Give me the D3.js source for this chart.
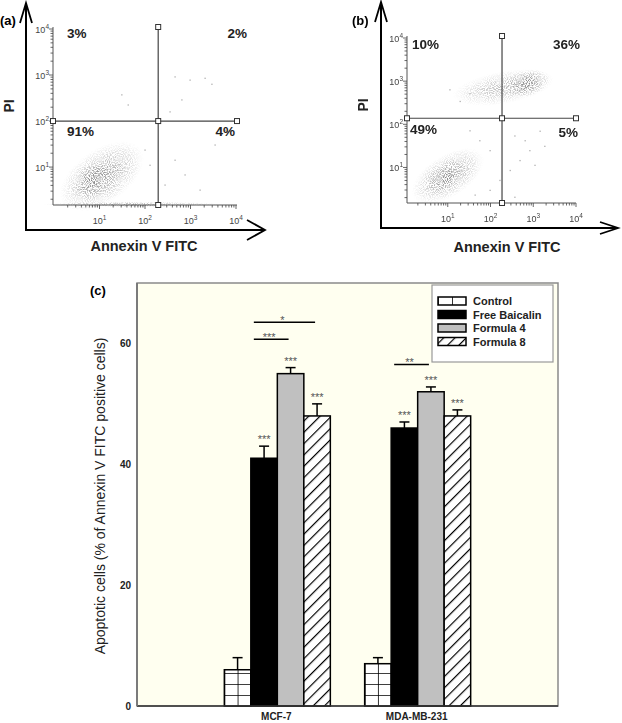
<!DOCTYPE html>
<html><head><meta charset="utf-8">
<script src="https://cdn.jsdelivr.net/npm/d3@7"></script>
<style>html,body{margin:0;padding:0;background:#fff}svg{display:block}text{font-family:"Liberation Sans",Arial,sans-serif}</style>
</head><body><svg id="fig" width="622" height="723"></svg>
<script>
// ---------- DATA ----------
// Flow cytometry panels
const panelIds = ["a", "b"];
const quadrantPercentsA = ["3%", "2%", "91%", "4%"];   // UL, UR, LL, LR
const quadrantPercentsB = ["10%", "36%", "49%", "5%"];
const gateAnnexinA = 195, gatePIA = 100;
const gateAnnexinB = 186, gatePIB = 138;
const decadeTicks = [10, 100, 1000, 10000];
const decadeExp = ["1", "2", "3", "4"];
// dense event clouds: [log10 Annexin, log10 PI, spreadX (decades), spreadY (decades), tilt deg, density]
const cloudsA = [
  [1.75, 0.19, 2.0, 0.06, 0, 0.6],
  [1.05, 0.80, 1.05, 0.58, -35, 0.7],
  [0.88, 0.72, 0.55, 0.33, -35, 0.85]
];
const cloudsB = [
  [1.00, 0.80, 0.95, 0.48, -32, 0.7],
  [0.92, 0.74, 0.45, 0.25, -32, 0.7],
  [2.30, 2.85, 1.20, 0.38, -10, 0.5],
  [2.85, 2.95, 0.55, 0.30, -15, 0.9]
];
// sparse individual events: [log10 Annexin, log10 PI]
const sparseA = [[2.66,2.96],[2.99,2.89],[3.32,2.93],[3.47,2.80],[1.49,2.57],[1.63,2.35],[2.55,2.20],[2.81,2.46],
  [3.54,1.48],[3.76,1.80],[2.0,1.37],[2.11,1.04],[2.44,0.61],[2.88,0.83],[3.21,0.50],[2.66,1.15]];
const sparseB = [[2.57,1.73],[2.81,1.62],[2.92,1.39],[2.69,1.16],[3.16,1.84],[2.46,0.93],[3.04,1.05],[3.27,1.49],
  [1.99,1.39],[1.75,1.62],[1.52,1.85],[1.29,2.53],[1.52,2.71],[1.05,2.80],[1.99,0.47],[2.22,0.70],[2.57,0.31],[1.64,0.36]];

// Bar chart (c)
const cellLines = ["MCF-7", "MDA-MB-231"];
const treatments = ["Control", "Free Baicalin", "Formula 4", "Formula 8"];
const controlMean = [6, 7];
const baicalinMean = [41, 46];
const formula4Mean = [55, 52];
const formula8Mean = [48, 48];
const controlErr = [2, 1];
const baicalinErr = [2, 1];
const formula4Err = [1, 0.8];
const formula8Err = [2, 1];
const barStars = ["", "***", "***", "***"];
const yTicksC = [0, 20, 40, 60];
// pairwise comparisons
const compLine = [0, 0, 1];
const compFrom = ["Free Baicalin", "Free Baicalin", "Free Baicalin"];
const compTo = ["Formula 8", "Formula 4", "Formula 4"];
const compLabel = ["*", "***", "**"];
const compLevel = [63.5, 60.7, 56.5];

// ---------- DRAW ----------
const svg = d3.select("#fig");
svg.append("rect").attr("width", 622).attr("height", 723).attr("fill", "#fff");
const defs = svg.append("defs");

// cloud gradient & grain filter
const rg = defs.append("radialGradient").attr("id", "cloudGrad");
rg.append("stop").attr("offset", "0%").attr("stop-color", "#777").attr("stop-opacity", 1);
rg.append("stop").attr("offset", "45%").attr("stop-color", "#929292").attr("stop-opacity", 0.8);
rg.append("stop").attr("offset", "80%").attr("stop-color", "#b0b0b0").attr("stop-opacity", 0.35);
rg.append("stop").attr("offset", "100%").attr("stop-color", "#c0c0c0").attr("stop-opacity", 0);
const flt = defs.append("filter").attr("id", "grain").attr("filterUnits", "userSpaceOnUse")
  .attr("x", 0).attr("y", 0).attr("width", 622).attr("height", 260);
flt.append("feTurbulence").attr("type", "fractalNoise").attr("baseFrequency", 0.95).attr("numOctaves", 1).attr("seed", 7).attr("result", "n");
flt.append("feColorMatrix").attr("in", "n").attr("type", "matrix")
  .attr("values", "0 0 0 0 0  0 0 0 0 0  0 0 0 0 0  4.5 0 0 0 -1.9").attr("result", "a");
flt.append("feComposite").attr("in", "SourceGraphic").attr("in2", "a").attr("operator", "in");

const panels = {
  a: { label: "(a)", labelX: 0, labelY: 25, arrowX: 26, arrowTop: 3, arrowY: 230, arrowRight: 265, headV: 6, headH: 10,
       xr: [54, 236], yr: [205, 29], left: 53, right: 237, top: 27, bottom: 205,
       piX: 14, piY: 106, annX: 144, annY: 251,
       pctPos: [[67, 38, "start"], [247, 38, "end"], [67, 136, "start"], [235, 136, "end"]],
       pcts: quadrantPercentsA, gx: gateAnnexinA, gy: gatePIA, clouds: cloudsA, sparse: sparseA },
  b: { label: "(b)", labelX: 352, labelY: 25, arrowX: 381, arrowTop: 2, arrowY: 228, arrowRight: 618, headV: 6, headH: 6,
       xr: [405, 576], yr: [203, 38], left: 407, right: 576, top: 36, bottom: 203,
       piX: 368, piY: 105, annX: 507, annY: 252,
       pctPos: [[412, 49, "start"], [580, 49, "end"], [410, 134, "start"], [578, 137, "end"]],
       pcts: quadrantPercentsB, gx: gateAnnexinB, gy: gatePIB, clouds: cloudsB, sparse: sparseB }
};

panelIds.forEach(id => {
  const P = panels[id];
  const g = svg.append("g");
  const x = d3.scaleLog().domain([1, 1e4]).range(P.xr);
  const y = d3.scaleLog().domain([1.5, 1e4]).range(P.yr);
  const pxPerDecX = (P.xr[1] - P.xr[0]) / 4;
  const pxPerDecY = (P.yr[0] - P.yr[1]) / Math.log10(1e4 / 1.5);

  const cg = g.append("g").attr("filter", "url(#grain)");
  P.clouds.forEach(c => {
    const cx = x(Math.pow(10, c[0])), cy = y(Math.pow(10, c[1]));
    cg.append("ellipse").attr("cx", 0).attr("cy", 0)
      .attr("rx", c[2] * pxPerDecX).attr("ry", c[3] * pxPerDecY)
      .attr("transform", `translate(${cx},${cy}) rotate(${c[4]})`)
      .attr("fill", "url(#cloudGrad)").attr("opacity", c[5]);
  });
  g.selectAll(null).data(P.sparse).join("rect")
    .attr("x", d => x(Math.pow(10, d[0])) - 0.6).attr("y", d => y(Math.pow(10, d[1])) - 0.6)
    .attr("width", 1.3).attr("height", 1.3).attr("fill", "#b0b0b0");

  g.append("path").attr("d", `M${P.arrowX},${P.arrowTop}V${P.arrowY}H${P.arrowRight}`)
    .attr("fill", "none").attr("stroke", "#000").attr("stroke-width", 2);
  g.append("path").attr("d", `M${P.arrowX - P.headV},${P.arrowTop + 20}L${P.arrowX},${P.arrowTop}L${P.arrowX + P.headV},${P.arrowTop + 20}`)
    .attr("fill", "none").attr("stroke", "#000").attr("stroke-width", 1.8);
  g.append("path").attr("d", `M${P.arrowRight - 18},${P.arrowY - P.headH}L${P.arrowRight},${P.arrowY}L${P.arrowRight - 18},${P.arrowY + P.headH}`)
    .attr("fill", "none").attr("stroke", "#000").attr("stroke-width", 1.8);

  g.append("path").attr("d", `M${P.left},${P.top}V${P.bottom}H${P.right}`)
    .attr("fill", "none").attr("stroke", "#555").attr("stroke-width", 1);
  const tickVals = [];
  for (let k = 0; k < 4; k++) for (let m = 1; m < 10; m++) tickVals.push(m * Math.pow(10, k));
  tickVals.push(1e4);
  tickVals.forEach(v => {
    const major = Math.abs(Math.log10(v) - Math.round(Math.log10(v))) < 1e-9;
    const len = major ? 4 : 2.5;
    if (v >= 1.5) g.append("line").attr("x1", P.left - len).attr("x2", P.left).attr("y1", y(v)).attr("y2", y(v))
      .attr("stroke", "#444").attr("stroke-width", 0.8);
    if (v > 1) g.append("line").attr("x1", x(v)).attr("x2", x(v)).attr("y1", P.bottom).attr("y2", P.bottom + len)
      .attr("stroke", "#444").attr("stroke-width", 0.8);
  });
  decadeTicks.forEach((v, i) => {
    const t = g.append("text").attr("x", P.left - 4).attr("y", y(v) + 4).attr("text-anchor", "end")
      .attr("font-size", 9).attr("fill", "#444");
    t.append("tspan").text("10");
    t.append("tspan").attr("dy", -4).attr("font-size", 6.5).text(decadeExp[i]);
    const tx = g.append("text").attr("x", x(v)).attr("y", P.bottom + 19).attr("text-anchor", "middle")
      .attr("font-size", 9).attr("fill", "#444");
    tx.append("tspan").text("10");
    tx.append("tspan").attr("dy", -4).attr("font-size", 6.5).text(decadeExp[i]);
  });

  const gx = x(P.gx), gy = y(P.gy);
  g.append("line").attr("x1", P.left).attr("x2", P.right).attr("y1", gy).attr("y2", gy).attr("stroke", "#444").attr("stroke-width", 1.2);
  g.append("line").attr("x1", gx).attr("x2", gx).attr("y1", P.top).attr("y2", P.bottom).attr("stroke", "#444").attr("stroke-width", 1.2);
  [[P.left, gy], [gx, gy], [P.right, gy], [gx, P.top], [gx, P.bottom]].forEach(p =>
    g.append("rect").attr("x", p[0] - 2.5).attr("y", p[1] - 2.5).attr("width", 5).attr("height", 5)
      .attr("fill", "#fff").attr("stroke", "#333").attr("stroke-width", 1));

  P.pcts.forEach((s, i) => g.append("text").attr("x", P.pctPos[i][0]).attr("y", P.pctPos[i][1])
    .attr("text-anchor", P.pctPos[i][2]).attr("font-size", 13.5).attr("font-weight", "bold").attr("fill", "#222").text(s));
  g.append("text").attr("x", P.labelX).attr("y", P.labelY).attr("font-size", 13).attr("font-weight", "bold").text(P.label);
  g.append("text").attr("transform", `translate(${P.piX},${P.piY}) rotate(-90)`).attr("text-anchor", "middle")
    .attr("font-size", 14).attr("font-weight", "bold").attr("fill", "#222").text("PI");
  g.append("text").attr("x", P.annX).attr("y", P.annY).attr("text-anchor", "middle")
    .attr("font-size", 14.5).attr("font-weight", "bold").attr("fill", "#222").text("Annexin V FITC");
});

// ---------- BAR CHART (c) ----------
const C = { left: 137, right: 558, top: 283, bottom: 706 };
const meansBy = [controlMean, baicalinMean, formula4Mean, formula8Mean];
const errsBy = [controlErr, baicalinErr, formula4Err, formula8Err];
const yC = d3.scaleLinear().domain([0, 70]).range([C.bottom, C.top]);
const x0 = d3.scalePoint().domain(cellLines).range([C.left, C.right]).padding(1);
const x1 = d3.scaleBand().domain(treatments).range([-53, 53]).paddingInner(0);
const bw = x1.bandwidth();

const gc = svg.append("g");
gc.append("rect").attr("x", C.left).attr("y", C.top).attr("width", C.right - C.left).attr("height", C.bottom - C.top)
  .attr("fill", "#fffff0").attr("stroke", "#8a8a8a").attr("stroke-width", 1.5);

const hatch = defs.append("pattern").attr("id", "hatch").attr("patternUnits", "userSpaceOnUse")
  .attr("width", 8).attr("height", 8).attr("patternTransform", "rotate(45)");
hatch.append("rect").attr("width", 8).attr("height", 8).attr("fill", "#fff");
hatch.append("line").attr("x1", 0).attr("x2", 0).attr("y1", 0).attr("y2", 8).attr("stroke", "#000").attr("stroke-width", 2.4);

function fillFor(ti, gx, key) {
  if (ti === 1) return "#000";
  if (ti === 2) return "#c0c0c0";
  if (ti === 3) return "url(#hatch)";
  const id = "grid" + key;
  const p = defs.append("pattern").attr("id", id).attr("patternUnits", "userSpaceOnUse")
    .attr("x", gx).attr("y", C.bottom).attr("width", bw / 2).attr("height", 11);
  p.append("rect").attr("width", bw / 2).attr("height", 11).attr("fill", "#fff");
  p.append("path").attr("d", `M0,0H${bw / 2}M0,0V11`).attr("stroke", "#000").attr("stroke-width", 1.6).attr("fill", "none");
  return `url(#${id})`;
}

cellLines.forEach((cl, ci) => {
  treatments.forEach((t, ti) => {
    const v = meansBy[ti][ci], e = errsBy[ti][ci];
    const bx = x0(cl) + x1(t);
    const cx = bx + bw / 2;
    gc.append("line").attr("x1", cx).attr("x2", cx).attr("y1", yC(v)).attr("y2", yC(v + e)).attr("stroke", "#000").attr("stroke-width", 1.5);
    gc.append("line").attr("x1", cx - 5).attr("x2", cx + 5).attr("y1", yC(v + e)).attr("y2", yC(v + e)).attr("stroke", "#000").attr("stroke-width", 1.5);
    gc.append("rect").attr("x", bx).attr("y", yC(v)).attr("width", bw).attr("height", yC(0) - yC(v))
      .attr("fill", fillFor(ti, bx, ci + "_" + ti)).attr("stroke", "#000").attr("stroke-width", 1.5);
    if (barStars[ti]) gc.append("text").attr("x", cx).attr("y", yC(v + e) - 3).attr("text-anchor", "middle")
      .attr("font-size", 11).attr("fill", "#555").text(barStars[ti]);
  });
});

compLine.forEach((ci, k) => {
  const xa = x0(cellLines[ci]) + x1(compFrom[k]) + 3;
  const xb = x0(cellLines[ci]) + x1(compTo[k]) + bw / 2 - 2;
  const yy = yC(compLevel[k]);
  gc.append("line").attr("x1", xa).attr("x2", xb).attr("y1", yy).attr("y2", yy).attr("stroke", "#000").attr("stroke-width", 1.5);
  gc.append("text").attr("x", (xa + xb) / 2 - 2).attr("y", yy + 1.5).attr("text-anchor", "middle")
    .attr("font-size", 11).attr("fill", "#555").text(compLabel[k]);
});

gc.append("line").attr("x1", C.left).attr("x2", C.right).attr("y1", C.bottom).attr("y2", C.bottom).attr("stroke", "#333").attr("stroke-width", 1.5);
gc.append("line").attr("x1", C.left).attr("x2", C.left).attr("y1", C.top).attr("y2", C.bottom).attr("stroke", "#777").attr("stroke-width", 1.8);

yTicksC.forEach(v => gc.append("text").attr("x", C.left - 6).attr("y", yC(v) + 3.5).attr("text-anchor", "end")
  .attr("font-size", 10).attr("font-weight", "bold").attr("fill", "#222").text(v));
cellLines.forEach(cl => gc.append("text").attr("x", x0(cl) - 1).attr("y", 720).attr("text-anchor", "middle")
  .attr("font-size", 10).attr("font-weight", "bold").attr("fill", "#222").text(cl));
gc.append("text").attr("transform", `translate(105,496) rotate(-90)`).attr("text-anchor", "middle")
  .attr("font-size", 14).attr("fill", "#222").text("Apoptotic cells (% of Annexin V FITC positive cells)");
gc.append("text").attr("x", 90).attr("y", 295).attr("font-size", 13).attr("font-weight", "bold").text("(c)");

const L = gc.append("g");
L.append("rect").attr("x", 432).attr("y", 285).attr("width", 121).attr("height", 77).attr("fill", "#fff").attr("stroke", "#999").attr("stroke-width", 1.2);
treatments.forEach((t, ti) => {
  const ry = 301 + ti * 13.5;
  let f;
  if (ti === 0) {
    const p = defs.append("pattern").attr("id", "gridLeg").attr("patternUnits", "userSpaceOnUse")
      .attr("x", 438).attr("y", ry - 4).attr("width", 14).attr("height", 20);
    p.append("rect").attr("width", 14).attr("height", 20).attr("fill", "#fff");
    p.append("path").attr("d", "M0,0V20").attr("stroke", "#000").attr("stroke-width", 1.6);
    f = "url(#gridLeg)";
  } else f = fillFor(ti, 0, "leg");
  L.append("rect").attr("x", 438).attr("y", ry - 4).attr("width", 28).attr("height", 8)
    .attr("fill", f).attr("stroke", "#000").attr("stroke-width", 1.5);
  L.append("text").attr("x", 473).attr("y", ry + 4).attr("font-size", 11).attr("font-weight", "bold").attr("fill", "#222").text(t);
});
</script></body></html>
